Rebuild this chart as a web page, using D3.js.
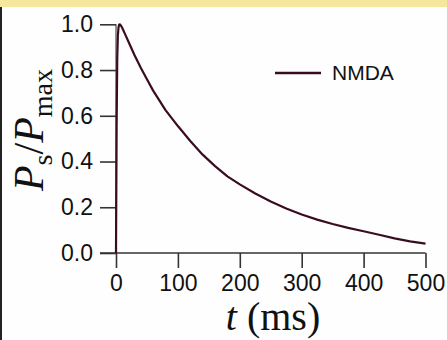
<!DOCTYPE html>
<html><head><meta charset="utf-8">
<script src="https://cdn.jsdelivr.net/npm/d3@7"></script>
<style>html,body{margin:0;padding:0;background:#fff;}svg{display:block;}</style>
</head><body>
<svg id="c" width="447" height="340"></svg>
<script>
const timeMs = [0,1,2,3,4,5,6,7,8,10,15,20,30,40,50,60,80,100,120,140,160,180,200,225,250,275,300,325,350,375,400,425,450,475,500];
const nmda   = [0,0.55,0.85,0.95,0.985,0.998,1.0,0.998,0.994,0.985,0.955,0.925,0.865,0.81,0.76,0.71,0.625,0.555,0.49,0.43,0.38,0.335,0.30,0.26,0.225,0.195,0.168,0.146,0.127,0.11,0.095,0.08,0.064,0.051,0.041];
const xTicks = [0,100,200,300,400,500];
const yTicks = [0.0,0.2,0.4,0.6,0.8,1.0];
const seriesName = "NMDA";

const svg = d3.select("#c");
svg.append("rect").attr("x",0).attr("y",0).attr("width",447).attr("height",340).attr("fill","#fefefe");
svg.append("rect").attr("x",0).attr("y",0).attr("width",447).attr("height",7).attr("fill","#f6e79f");
svg.append("rect").attr("x",0).attr("y",7).attr("width",2).attr("height",333).attr("fill","#222");

const x = d3.scaleLinear().domain([0,500]).range([116,425.5]);
const y = d3.scaleLinear().domain([0,1]).range([253,24.3]);

const xa = svg.append("g").attr("transform","translate(0,253)")
  .call(d3.axisBottom(x).tickValues(xTicks).tickFormat(d3.format("d")).tickSizeInner(15).tickSizeOuter(15).tickPadding(8));
const ya = svg.append("g").attr("transform","translate(116,0)")
  .call(d3.axisLeft(y).tickValues(yTicks).tickFormat(d3.format(".1f")).tickSizeInner(16).tickSizeOuter(0).tickPadding(7));
[xa,ya].forEach(a=>{
  a.selectAll("path.domain").attr("stroke","#333").attr("stroke-width",1.6);
  a.selectAll(".tick line").attr("stroke","#333").attr("stroke-width",1.6);
  a.selectAll("text").attr("font-family","Liberation Sans, Arial, sans-serif").attr("font-size",23).attr("fill","#111");
});
xa.selectAll(".tick text").attr("dy","0.66em");
ya.select("path.domain").attr("d","M0,24.3V253").attr("stroke","#777");
xa.select("path.domain").attr("d","M100,0H425.5");

const line = d3.line().x((d,i)=>x(timeMs[i])).y(d=>y(d));
svg.append("path").datum(nmda).attr("d",line).attr("fill","none")
  .attr("stroke","#3a0c22").attr("stroke-width",2.2).attr("stroke-linejoin","round");

// legend
svg.append("line").attr("x1",275).attr("x2",321).attr("y1",73).attr("y2",73).attr("stroke","#3a0c22").attr("stroke-width",2.5);
svg.append("text").attr("x",332).attr("y",80).attr("font-family","Liberation Sans, Arial, sans-serif").attr("font-size",21).attr("fill","#111").text(seriesName);

// x label
const xl = svg.append("text").attr("x",273).attr("y",330).attr("text-anchor","middle")
  .attr("font-family","Liberation Serif, DejaVu Serif, serif").attr("font-size",40).attr("fill","#111");
xl.append("tspan").attr("font-style","italic").text("t");
xl.append("tspan").text(" (ms)");

// y label
const yl = svg.append("text").attr("transform","translate(43,130) rotate(-90)").attr("text-anchor","middle")
  .attr("font-family","Liberation Serif, DejaVu Serif, serif").attr("font-size",42).attr("fill","#111");
yl.append("tspan").attr("font-style","italic").text("P");
yl.append("tspan").attr("font-size",28).attr("dy",9).text("s");
yl.append("tspan").attr("dy",-9).text("/");
yl.append("tspan").attr("font-style","italic").text("P");
yl.append("tspan").attr("font-size",28).attr("dy",9).text("max");
</script>
</body></html>
